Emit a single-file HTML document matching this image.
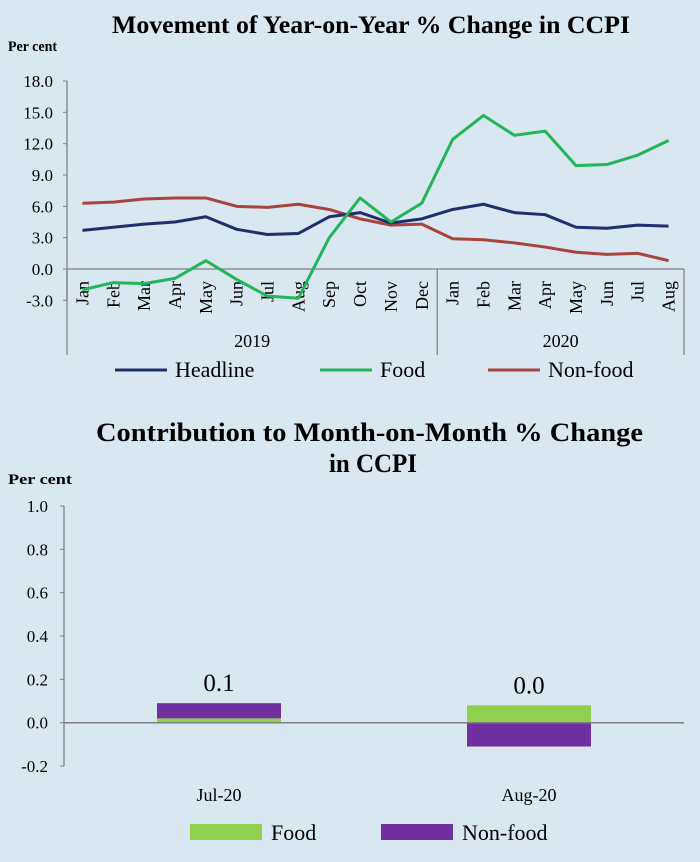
<!DOCTYPE html>
<html><head><meta charset="utf-8"><style>
html,body{margin:0;padding:0;background:#d8e7f0;}
svg{display:block;font-family:"Liberation Serif",serif;}
</style></head><body>
<svg id="c" width="700" height="862" viewBox="0 0 700 862" xmlns="http://www.w3.org/2000/svg">
<rect width="700" height="862" fill="#d8e7f0"/>
<text x="112" y="33" font-size="25" font-weight="bold" textLength="518" lengthAdjust="spacingAndGlyphs">Movement of Year-on-Year % Change in CCPI</text>
<text x="8" y="51" font-size="15" font-weight="bold" textLength="49" lengthAdjust="spacingAndGlyphs">Per cent</text>
<g id="c1"></g>
<text x="96" y="441" font-size="26" font-weight="bold" textLength="547" lengthAdjust="spacingAndGlyphs">Contribution to Month-on-Month % Change</text>
<text x="329" y="472" font-size="26" font-weight="bold" textLength="88" lengthAdjust="spacingAndGlyphs">in CCPI</text>
<text x="8" y="484" font-size="15" font-weight="bold" textLength="64" lengthAdjust="spacingAndGlyphs">Per cent</text>
<g id="c2"></g>
</svg>
<script>
const months = ["Jan","Feb","Mar","Apr","May","Jun","Jul","Aug","Sep","Oct","Nov","Dec","Jan","Feb","Mar","Apr","May","Jun","Jul","Aug"];
const years = ["2019","2020"];
const headline = [3.7,4.0,4.3,4.5,5.0,3.8,3.3,3.4,5.0,5.4,4.4,4.8,5.7,6.2,5.4,5.2,4.0,3.9,4.2,4.1];
const food = [-2.0,-1.3,-1.4,-0.9,0.8,-1.0,-2.6,-2.8,3.0,6.8,4.5,6.3,12.4,14.7,12.8,13.2,9.9,10.0,10.9,12.3];
const nonfood = [6.3,6.4,6.7,6.8,6.8,6.0,5.9,6.2,5.7,4.8,4.2,4.3,2.9,2.8,2.5,2.1,1.6,1.4,1.5,0.8];
const yTicks1 = [18,15,12,9,6,3,0,-3];
const cats2 = ["Jul-20","Aug-20"];
const foodMoM = [0.02,0.08];
const nonfoodMoM = [0.07,-0.11];
const totalLabels = ["0.1","0.0"];
const yTicks2 = [1.0,0.8,0.6,0.4,0.2,0.0,-0.2];

const NS="http://www.w3.org/2000/svg";
function mk(p,t,a,txt){const e=document.createElementNS(NS,t);for(const k in a)e.setAttribute(k,a[k]);if(txt!==undefined)e.textContent=txt;p.appendChild(e);return e;}
const ax="#7f7f7f";
// chart 1
const g1=document.getElementById('c1');
const x0=67,x1=684,step=(x1-x0)/months.length;
const y1=v=>269-v*(188/18);
const xc=i=>x0+step*(i+0.5);
let e=mk(g1,'line',{x1:x0,y1:y1(18),x2:x0,y2:y1(-3),stroke:ax,'stroke-width':1.3});


yTicks1.forEach(v=>{
  mk(g1,'line',{x1:x0-4,y1:y1(v),x2:x0,y2:y1(v),stroke:ax});
  e=mk(g1,'text',{x:x0-14,y:y1(v)+6,'font-size':17,'text-anchor':'end'},v.toFixed(1));
  
  
});
e=mk(g1,'line',{x1:x0,y1:y1(0),x2:x1,y2:y1(0),stroke:ax,'stroke-width':1.3});


[0,12,20].forEach(i=>mk(g1,'line',{x1:x0+step*i,y1:y1(0),x2:x0+step*i,y2:355,stroke:ax,'stroke-width':1.2}));
months.forEach((m,i)=>{
  e=mk(g1,'text',{x:0,y:0,'font-size':18,'text-anchor':'end',transform:`translate(${xc(i)+6},${y1(0)+12}) rotate(-90)`},m);
  
  
});
years.forEach((yr,k)=>{
  const a=k===0?0:12,b=k===0?12:20;
  e=mk(g1,'text',{x:x0+step*(a+b)/2,y:347,'font-size':18,'text-anchor':'middle'},yr);
  
  
});
const series=[[nonfood,'#a8443d','nonfood-line'],[headline,'#1f2f6b','headline-line'],[food,'#22b559','food-line']];
series.forEach(([d,c,n])=>{
  e=mk(g1,'polyline',{points:d.map((v,i)=>xc(i)+','+y1(v)).join(' '),fill:'none',stroke:c,'stroke-width':3,'stroke-linejoin':'round'});
  
  
});
[['Headline','#1f2f6b',115],['Food','#22b559',320],['Non-food','#a8443d',488]].forEach(([t,c,x])=>{
  e=mk(g1,'line',{x1:x,y1:370,x2:x+52,y2:370,stroke:c,'stroke-width':3});
  
  
  e=mk(g1,'text',{x:x+60,y:377,'font-size':22},t);
  
  
});
// chart 2
const g2=document.getElementById('c2');
const X0=64,X1=684;
const y2=v=>722.7-v*(216.7/1.0);
e=mk(g2,'line',{x1:X0,y1:y2(1),x2:X0,y2:y2(-0.2),stroke:ax,'stroke-width':1.3});


yTicks2.forEach(v=>{
  mk(g2,'line',{x1:X0-4,y1:y2(v),x2:X0,y2:y2(v),stroke:ax});
  e=mk(g2,'text',{x:X0-16,y:y2(v)+6,'font-size':17,'text-anchor':'end'},v.toFixed(1));
  
  
});
const cw=(X1-X0)/cats2.length,bw=124;
cats2.forEach((c,i)=>{
  const cx=X0+cw*(i+0.5),bx=cx-bw/2;
  let posBase=0,negBase=0;
  [[foodMoM[i],'#8fd14f','bar-food'],[nonfoodMoM[i],'#7030a0','bar-nonfood']].forEach(([v,col,n])=>{
    let top,bot;
    if(v>=0){bot=posBase;top=posBase+v;posBase=top;}else{top=negBase;bot=negBase+v;negBase=bot;}
    e=mk(g2,'rect',{x:bx,y:y2(top),width:bw,height:y2(bot)-y2(top),fill:col});
    
    
  });
  e=mk(g2,'text',{x:cx,y:y2(posBase)-12,'font-size':25,'text-anchor':'middle'},totalLabels[i]);
  
  
  e=mk(g2,'text',{x:cx,y:801,'font-size':18,'text-anchor':'middle'},c);
  
  
});
e=mk(g2,'line',{x1:X0,y1:y2(0),x2:X1,y2:y2(0),stroke:ax,'stroke-width':1.5});


[['Food','#8fd14f',190],['Non-food','#7030a0',381]].forEach(([t,c,x])=>{
  e=mk(g2,'rect',{x:x,y:824,width:72,height:16,fill:c});
  
  
  e=mk(g2,'text',{x:x+81,y:840,'font-size':22},t);
  
  
});
</script>
</body></html>
